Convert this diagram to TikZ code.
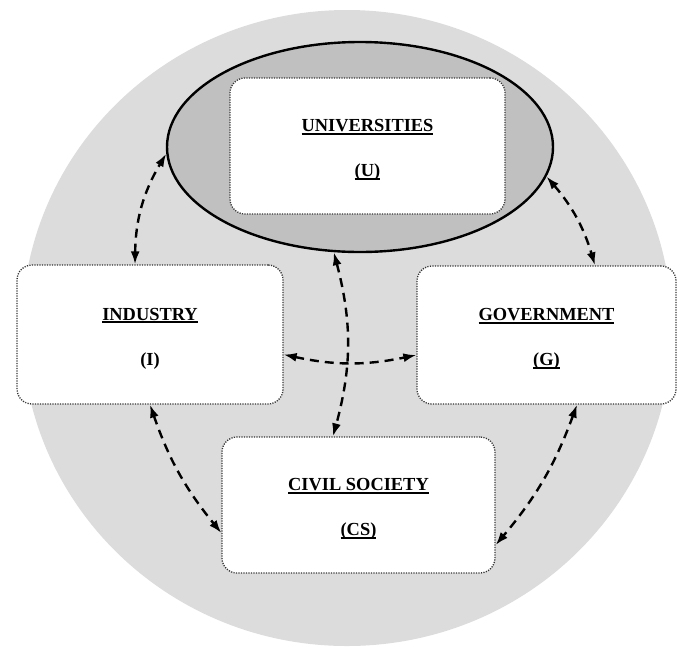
\documentclass[tikz,border=0pt]{standalone}
\usepackage{fontspec}
\setmainfont{Liberation Serif}
\usetikzlibrary{arrows.meta,shapes.geometric}
\definecolor{bgc}{RGB}{220,220,220}
\definecolor{ellc}{RGB}{192,192,192}
\newcommand\ulx[1]{\setbox0=\hbox{#1}\rlap{\rule[-3.2pt]{\wd0}{1.8pt}}\box0}
\newcommand\tstrut{\rule{0pt}{20pt}}
\begin{document}
\begin{tikzpicture}[x=1pt,y=-1pt,
  box/.style={draw=black!80, line width=1.3pt, dash pattern=on 1.2pt off 1.3pt, fill=white,
    rounded corners=15pt, inner sep=0pt, align=center, font=\fontsize{18.4}{45}\selectfont\bfseries},
  link/.style={line width=2.4pt, dash pattern=on 9pt off 6pt,
    {Latex[length=13pt,width=9pt]}-{Latex[length=13pt,width=9pt]}}]
\useasboundingbox (0,0) rectangle (684,646);
\fill[bgc] (347,328) ellipse [x radius=325pt, y radius=318pt];
\node[ellipse, draw, line width=2.4pt, fill=ellc, minimum width=386pt, minimum height=210pt, inner sep=0pt] (uell) at (360,147) {};
\node[box, minimum width=275pt, minimum height=136pt] (univ) at (367.5,146) {\tstrut\ulx{UNIVERSITIES}\\\ulx{(U)}};
\node[box, minimum width=266pt, minimum height=139pt] (ind) at (150,334.5) {\tstrut\ulx{INDUSTRY}\\(I)};
\node[box, minimum width=259pt, minimum height=138pt] (gov) at (546.5,335) {\tstrut\ulx{GOVERNMENT}\\\ulx{(G)}};
\node[box, minimum width=273pt, minimum height=136pt] (cs) at (358.5,505) {\tstrut\ulx{CIVIL SOCIETY}\\\ulx{(CS)}};
\draw[link] ([xshift=-15pt]ind.north) to[bend left=15] (uell.182);
\draw[link] (uell.-9) to[bend left=12] ([xshift=48.5pt]gov.north);
\draw[link] (uell.256) to[bend left=15] ([xshift=-25.5pt]cs.north);
\draw[link] ([yshift=-20pt]ind.east) to[bend right=12] ([yshift=-20pt]gov.west);
\draw[link] (ind.south) to[bend right=10] ([yshift=-28pt]cs.west);
\draw[link] ([xshift=30.5pt]gov.south) to[bend left=10] ([yshift=-40pt]cs.east);
\end{tikzpicture}
\end{document}
